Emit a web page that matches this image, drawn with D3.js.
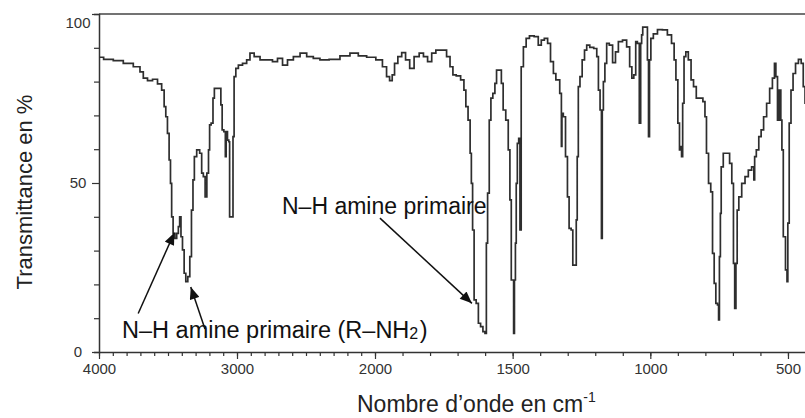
<!DOCTYPE html>
<html>
<head>
<meta charset="utf-8">
<script src="https://cdn.jsdelivr.net/npm/d3@7"></script>
<style>
  body { margin: 0; background: #fff; }
  text { font-family: "Liberation Sans", Arial, sans-serif; }
</style>
</head>
<body>
<div id="chart"></div>
<script>
// IR spectrum: wavenumber (cm-1) and transmittance (%)
var wavenumber = [
  4000, 3933, 3860, 3788, 3715, 3691, 3667, 3630, 3594, 3558,
  3534, 3522, 3510, 3498, 3486, 3478, 3469, 3457, 3444, 3430,
  3420, 3411, 3401, 3389, 3377, 3365, 3348, 3336, 3324, 3314,
  3304, 3280, 3261, 3251, 3237, 3225, 3212, 3201, 3196, 3179,
  3169, 3159, 3123, 3111, 3104, 3087, 3082, 3075, 3063, 3056,
  3051, 3031, 3027, 3015, 3002, 2978, 2942, 2918, 2894, 2857,
  2809, 2761, 2725, 2688, 2652, 2616, 2567, 2519, 2471, 2423,
  2375, 2290, 2218, 2145, 2097, 2024, 1982, 1964, 1952, 1942,
  1933, 1925, 1909, 1897, 1881, 1867, 1849, 1830, 1818, 1800,
  1788, 1770, 1746, 1734, 1721, 1713, 1697, 1681, 1673, 1667,
  1657, 1652, 1648, 1643, 1637, 1628, 1621, 1612, 1604, 1597,
  1594, 1588, 1582, 1576, 1568, 1561, 1556, 1544, 1538, 1531,
  1519, 1513, 1507, 1503, 1498, 1495, 1492, 1488, 1486, 1480,
  1476, 1471, 1467, 1455, 1447, 1431, 1413, 1401, 1391, 1379,
  1367, 1358, 1346, 1340, 1334, 1324, 1322, 1320, 1312, 1304,
  1298, 1292, 1283, 1280, 1271, 1267, 1264, 1259, 1252, 1243,
  1235, 1227, 1213, 1198, 1191, 1186, 1179, 1176, 1173, 1168,
  1162, 1155, 1143, 1131, 1122, 1110, 1092, 1080, 1070, 1064,
  1056, 1050, 1044, 1036, 1034, 1029, 1026, 1013, 1008, 1005,
  1001, 995, 983, 965, 947, 929, 917, 910, 904, 896,
  892, 889, 884, 881, 874, 868, 856, 848, 838, 828,
  814, 804, 799, 793, 784, 777, 771, 765, 759, 753,
  751, 747, 744, 741, 729, 717, 707, 701, 695, 692,
  686, 683, 674, 662, 650, 638, 626, 622, 620, 610,
  602, 593, 584, 571, 562, 551, 547, 541, 535, 529,
  523, 521, 513, 505, 502, 499, 492, 486, 477, 468,
  456, 448, 441, 435
];

var transmittance = [
  87.2, 86.6, 86.2, 85.4, 84.4, 82.9, 81.0, 80.3, 80.7, 79.3,
  77.5, 72.6, 69.6, 64.7, 56.8, 49.9, 40.0, 35.1, 33.6, 35.1,
  37.1, 40.0, 34.1, 30.2, 23.3, 20.8, 22.3, 28.2, 42.0, 50.9,
  57.8, 59.8, 58.8, 52.9, 51.9, 45.9, 52.9, 59.8, 67.2, 67.7,
  75.1, 78.0, 78.0, 73.1, 65.7, 65.2, 57.8, 65.2, 62.7, 62.2,
  40.0, 40.0, 63.7, 81.5, 83.9, 84.9, 85.4, 86.4, 88.4, 87.4,
  86.4, 86.4, 85.9, 86.9, 84.9, 86.4, 87.4, 88.4, 87.4, 86.9,
  86.4, 86.6, 87.6, 88.4, 87.6, 87.2, 86.4, 84.4, 81.5, 80.3,
  82.0, 85.4, 87.4, 88.6, 86.4, 83.9, 87.4, 88.4, 87.4, 85.9,
  88.4, 89.3, 89.3, 87.4, 84.4, 82.0, 81.7, 80.5, 77.5, 72.6,
  68.6, 58.8, 49.9, 36.1, 15.4, 14.4, 8.5, 7.5, 6.0, 5.5,
  32.2, 47.0, 68.6, 75.1, 76.5, 79.5, 83.4, 83.4, 79.5, 71.6,
  68.6, 59.8, 45.0, 21.3, 21.3, 5.5, 21.3, 32.2, 49.9, 61.7,
  63.2, 36.1, 84.4, 90.3, 92.8, 93.5, 93.3, 90.8, 92.3, 92.8,
  91.3, 85.9, 82.4, 80.5, 80.5, 76.5, 60.8, 70.6, 69.6, 57.8,
  45.9, 36.6, 36.1, 25.7, 25.7, 39.1, 57.8, 78.5, 81.5, 86.4,
  89.3, 90.8, 90.1, 89.8, 87.4, 77.5, 71.6, 33.6, 71.6, 80.0,
  85.4, 91.3, 90.8, 85.6, 88.8, 91.8, 92.3, 90.3, 84.4, 81.0,
  82.0, 91.8, 91.3, 67.7, 91.3, 93.8, 96.1, 96.1, 86.4, 63.7,
  86.4, 92.8, 94.1, 95.4, 95.3, 93.8, 91.3, 86.4, 80.5, 67.7,
  59.8, 60.8, 57.8, 73.6, 87.4, 88.8, 86.4, 80.5, 78.5, 75.1,
  75.1, 74.1, 69.6, 58.8, 49.9, 47.4, 29.2, 20.3, 14.4, 13.9,
  9.5, 28.2, 41.0, 54.8, 58.8, 58.8, 55.8, 49.9, 26.2, 12.9,
  26.2, 42.0, 45.9, 49.9, 51.9, 53.8, 54.8, 50.9, 57.8, 59.8,
  63.7, 65.7, 69.6, 73.6, 78.0, 81.0, 85.4, 81.5, 68.6, 77.5,
  68.6, 59.8, 34.1, 24.3, 20.8, 38.1, 67.7, 77.5, 82.4, 85.4,
  86.6, 85.4, 78.5, 73.6
];

// tick values
var xMajorTicks = [4000, 3000, 2000, 1500, 1000, 500];
var xMinorTicks = d3.range(4000, 399, -100);
var yTicks = d3.range(0, 101, 10);
var yLabelTicks = [0, 50, 100];

// annotation arrows, [wavenumber, transmittance] of tail and tip
var arrowTails = [[3716, 11.4], [3232, 6.8], [1982, 39.6]];
var arrowTips = [[3454, 35.3], [3335, 19.2], [1648, 14.4]];

var svgWidth = 805;
var svgHeight = 418;

var margin = { top: 14, right: 0, bottom: 66, left: 99 };
var width = 716.5;   // plot runs past the right edge of the window
var height = svgHeight - margin.top - margin.bottom;

var svg = d3.select("#chart")
  .append("svg")
  .attr("width", svgWidth)
  .attr("height", svgHeight);

var chartGroup = svg.append("g")
  .attr("transform", `translate(${margin.left}, ${margin.top})`);

// x axis is compressed above 2000 cm-1 (two linear pieces)
var xScale = d3.scaleLinear()
  .domain([4000, 2000, 400])
  .range([0, 276, width]);

var yScale = d3.scaleLinear()
  .domain([0, 100])
  .range([height, 0]);

var ink = "#333";

// frame top line
chartGroup.append("line")
  .attr("x1", 0).attr("x2", width)
  .attr("y1", yScale(100)).attr("y2", yScale(100))
  .attr("stroke", "#444").attr("stroke-width", 1.6);

// x axis: minor ticks then major ticks with labels
chartGroup.append("g")
  .attr("transform", `translate(0, ${height})`)
  .call(d3.axisBottom(xScale).tickValues(xMinorTicks).tickSize(4).tickSizeOuter(0).tickFormat(""))
  .call(g => g.select(".domain").attr("stroke", ink).attr("stroke-width", 1.5))
  .call(g => g.selectAll(".tick line").attr("stroke", ink).attr("stroke-width", 1.2));

chartGroup.append("g")
  .attr("transform", `translate(0, ${height})`)
  .call(d3.axisBottom(xScale).tickValues(xMajorTicks).tickSize(7).tickSizeOuter(0)
    .tickPadding(4).tickFormat(d3.format("d")))
  .call(g => g.select(".domain").remove())
  .call(g => g.selectAll(".tick line").attr("stroke", ink).attr("stroke-width", 1.2))
  .call(g => g.selectAll(".tick text").attr("fill", ink).attr("font-size", 15)
    .attr("font-family", "'Liberation Sans', Arial, sans-serif"));

// y axis
chartGroup.append("g")
  .call(d3.axisLeft(yScale).tickValues(yTicks).tickSizeOuter(0).tickFormat("")
    .tickSize(5))
  .call(g => g.select(".domain").attr("stroke", ink).attr("stroke-width", 1.5))
  .call(g => g.selectAll(".tick line").attr("stroke", ink).attr("stroke-width", 1.2)
    .attr("x2", d => yLabelTicks.includes(d) ? -7 : -5));

chartGroup.selectAll(".ylabel")
  .data(yLabelTicks)
  .enter()
  .append("text")
  .attr("class", "ylabel")
  .attr("x", -21)
  .attr("y", d => yScale(d) + (d === 100 ? 9 : 0))
  .attr("dy", "0.35em")
  .attr("text-anchor", "middle")
  .attr("font-size", 15)
  .attr("fill", ink)
  .text(d => d);

// spectrum
var spectrum = wavenumber.map((w, i) => ({ w: w, t: transmittance[i] }));

var line = d3.line()
  .x(d => xScale(d.w))
  .y(d => yScale(d.t))
  .curve(d3.curveStep);

chartGroup.append("path")
  .datum(spectrum)
  .attr("d", line)
  .attr("fill", "none")
  .attr("stroke", "#2e2e2e")
  .attr("stroke-width", 1.7)
  .attr("stroke-linejoin", "miter");

// arrows
svg.append("defs").append("marker")
  .attr("id", "head")
  .attr("viewBox", "0 0 12 10")
  .attr("refX", 12).attr("refY", 5)
  .attr("markerWidth", 13).attr("markerHeight", 10)
  .attr("markerUnits", "userSpaceOnUse")
  .attr("orient", "auto")
  .append("path")
  .attr("d", "M0,0 L12,5 L0,10 Z")
  .attr("fill", "#111");

chartGroup.selectAll(".arrow")
  .data(arrowTails)
  .enter()
  .append("line")
  .attr("class", "arrow")
  .attr("x1", d => xScale(d[0]))
  .attr("y1", d => yScale(d[1]))
  .attr("x2", (d, i) => xScale(arrowTips[i][0]))
  .attr("y2", (d, i) => yScale(arrowTips[i][1]))
  .attr("stroke", "#111")
  .attr("stroke-width", 1.5)
  .attr("marker-end", "url(#head)");

// labels
chartGroup.append("text")
  .attr("x", xScale(2674))
  .attr("y", yScale(40.8))
  .attr("font-size", 23)
  .attr("fill", "#111")
  .text("N–H amine primaire");

var lab2 = chartGroup.append("text")
  .attr("x", xScale(3833))
  .attr("y", yScale(4.1))
  .attr("font-size", 23.5)
  .attr("fill", "#111");
lab2.append("tspan").text("N–H amine primaire (R–NH");
lab2.append("tspan").attr("font-size", 16).attr("dy", 1).text("2");
lab2.append("tspan").attr("dy", -1).attr("dx", 1.5).text(")");

// axis titles
svg.append("text")
  .attr("transform", "rotate(-90)")
  .attr("x", -192)
  .attr("y", 32)
  .attr("text-anchor", "middle")
  .attr("font-size", 22)
  .attr("fill", "#222")
  .text("Transmittance en %");

var xt = svg.append("text")
  .attr("x", 357)
  .attr("y", 412)
  .attr("font-size", 23)
  .attr("fill", "#222");
xt.append("tspan").text("Nombre d’onde en cm");
xt.append("tspan").attr("font-size", 14).attr("dy", -10).text("-1");
</script>
</body>
</html>
